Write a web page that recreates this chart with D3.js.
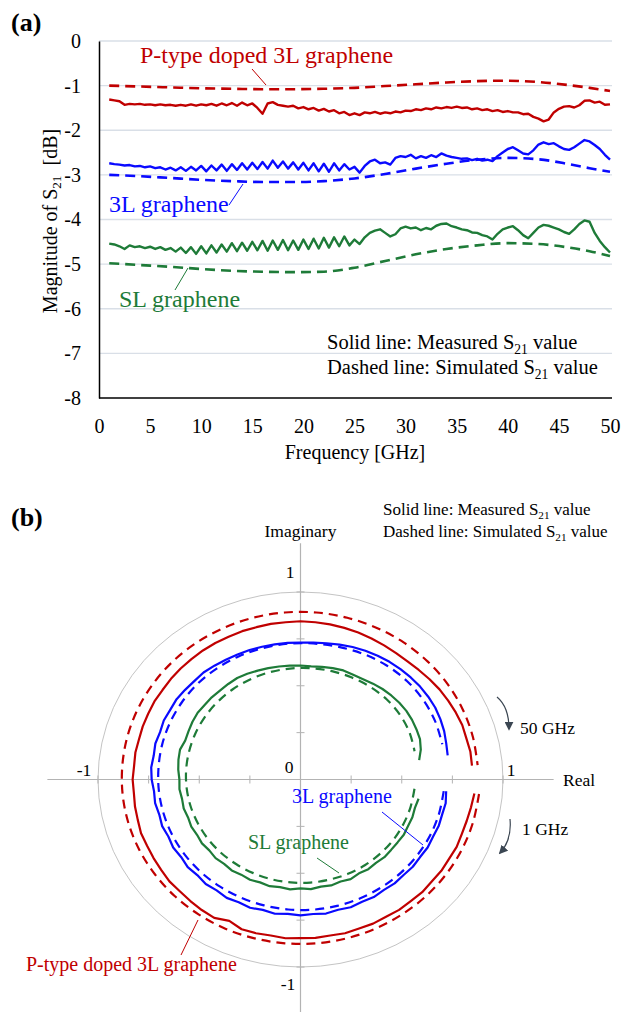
<!DOCTYPE html>
<html>
<head>
<meta charset="utf-8">
<script src="https://cdn.jsdelivr.net/npm/d3@7"></script>
<style>
  body { margin: 0; background: #fff; }
  svg text { font-family: "Liberation Serif", "Times New Roman", serif; white-space: pre; }
</style>
</head>
<body>
<div id="chart"></div>
<script>
// ---------- panel (a): |S21| in dB vs frequency ----------
var freqMeas = [1,1.5,2,2.5,3,3.5,4,4.5,5,5.5,6,6.5,7,7.5,8,8.5,9,9.5,10,10.5,
  11,11.5,12,12.5,13,13.5,14,14.5,15,15.5,16,16.5,17,17.5,18,18.5,19,19.5,20,20.5,
  21,21.5,22,22.5,23,23.5,24,24.5,25,25.5,26,26.5,27,27.5,28,28.5,29,29.5,30,30.5,
  31,31.5,32,32.5,33,33.5,34,34.5,35,35.5,36,36.5,37,37.5,38,38.5,39,39.5,40,40.5,
  41,41.5,42,42.5,43,43.5,44,44.5,45,45.5,46,46.5,47,47.5,48,48.5,49,49.5,50];

var pdopedMeas = [-1.31,-1.33,-1.35,-1.43,-1.41,-1.42,-1.41,-1.43,-1.42,-1.44,
  -1.42,-1.44,-1.43,-1.45,-1.43,-1.45,-1.42,-1.45,-1.42,-1.44,
  -1.41,-1.45,-1.40,-1.44,-1.39,-1.45,-1.38,-1.44,-1.40,-1.50,
  -1.63,-1.40,-1.37,-1.43,-1.45,-1.47,-1.45,-1.51,-1.48,-1.53,
  -1.50,-1.56,-1.52,-1.58,-1.55,-1.62,-1.59,-1.66,-1.62,-1.66,
  -1.60,-1.62,-1.59,-1.63,-1.60,-1.62,-1.58,-1.60,-1.56,-1.57,
  -1.53,-1.55,-1.51,-1.53,-1.49,-1.51,-1.48,-1.50,-1.47,-1.50,
  -1.49,-1.53,-1.51,-1.55,-1.53,-1.57,-1.55,-1.59,-1.57,-1.60,
  -1.60,-1.64,-1.63,-1.70,-1.74,-1.80,-1.76,-1.60,-1.52,-1.47,
  -1.46,-1.49,-1.44,-1.34,-1.33,-1.38,-1.36,-1.43,-1.42];

var g3lMeas = [-2.74,-2.76,-2.77,-2.79,-2.78,-2.81,-2.80,-2.83,-2.81,-2.85,
  -2.83,-2.88,-2.84,-2.90,-2.83,-2.91,-2.82,-2.90,-2.80,-2.92,
  -2.79,-2.90,-2.77,-2.91,-2.76,-2.89,-2.74,-2.88,-2.73,-2.87,
  -2.71,-2.86,-2.68,-2.84,-2.70,-2.86,-2.72,-2.88,-2.73,-2.90,
  -2.74,-2.92,-2.75,-2.93,-2.74,-2.90,-2.76,-2.88,-2.82,-2.95,
  -2.80,-2.70,-2.66,-2.74,-2.72,-2.77,-2.62,-2.58,-2.60,-2.55,
  -2.63,-2.58,-2.62,-2.56,-2.60,-2.52,-2.57,-2.60,-2.62,-2.64,
  -2.63,-2.67,-2.64,-2.68,-2.66,-2.69,-2.58,-2.50,-2.42,-2.38,
  -2.45,-2.52,-2.54,-2.45,-2.32,-2.27,-2.31,-2.29,-2.36,-2.42,
  -2.44,-2.38,-2.30,-2.22,-2.25,-2.33,-2.42,-2.55,-2.66];

var slMeas = [-4.54,-4.56,-4.60,-4.66,-4.58,-4.62,-4.60,-4.64,-4.61,-4.66,
  -4.62,-4.68,-4.64,-4.72,-4.63,-4.75,-4.62,-4.77,-4.60,-4.76,
  -4.58,-4.74,-4.56,-4.72,-4.53,-4.71,-4.52,-4.70,-4.50,-4.69,
  -4.48,-4.70,-4.47,-4.68,-4.46,-4.69,-4.47,-4.68,-4.45,-4.66,
  -4.43,-4.65,-4.41,-4.63,-4.40,-4.60,-4.38,-4.58,-4.45,-4.55,
  -4.40,-4.30,-4.25,-4.22,-4.30,-4.38,-4.33,-4.20,-4.16,-4.20,
  -4.18,-4.24,-4.19,-4.22,-4.14,-4.10,-4.09,-4.15,-4.18,-4.22,
  -4.24,-4.29,-4.30,-4.35,-4.38,-4.45,-4.32,-4.22,-4.18,-4.15,
  -4.24,-4.35,-4.42,-4.30,-4.18,-4.12,-4.14,-4.18,-4.22,-4.28,
  -4.32,-4.22,-4.10,-4.02,-4.05,-4.30,-4.48,-4.62,-4.74];

var freqSim = [1,4,7,10,13,16,19,22,25,28,31,34,37,40,43,46,48,50];
var pdopedSim = [-1.00,-1.02,-1.04,-1.06,-1.07,-1.08,-1.08,-1.07,-1.05,-1.01,-0.97,-0.93,-0.90,-0.89,-0.92,-0.99,-1.05,-1.12];
var g3lSim    = [-3.00,-3.03,-3.07,-3.11,-3.14,-3.16,-3.16,-3.14,-3.08,-2.98,-2.86,-2.75,-2.66,-2.62,-2.65,-2.76,-2.85,-2.93];
var slSim     = [-4.98,-5.02,-5.06,-5.11,-5.15,-5.17,-5.18,-5.17,-5.08,-4.93,-4.78,-4.66,-4.58,-4.53,-4.55,-4.63,-4.71,-4.82];

var magTicks = [0,-1,-2,-3,-4,-5,-6,-7,-8];
var freqTicks = [0,5,10,15,20,25,30,35,40,45,50];

// ---------- panel (b): S21 on the complex plane (phase in degrees, linear magnitude) ----------
var phaseMeas = [-5,-10,-15,-20,-25,-30,-35,-40,-45,-50,-55,-60,-65,-70,-75,-80,-85,-90,
  -95,-100,-105,-110,-115,-120,-125,-130,-135,-140,-145,-150,-155,-160,-165,-170,-175,-180,
  -185,-190,-195,-200,-205,-210,-215,-220,-225,-230,-235,-240,-245,-250,-255,-260,-265,-270,
  -275,-280,-285,-290,-295,-300,-305,-310,-315,-320,-325,-330,-335,-340,-345,-350,-355];

var pdopedPolMeas = [.862,.855,.850,.848,.851,.847,.849,.846,.850,.847,.849,.845,.848,.846,.849,.845,.848,.846,
  .850,.845,.849,.850,.832,.852,.850,.846,.843,.845,.840,.838,.836,.838,.832,.830,.826,.829,
  .825,.828,.826,.829,.830,.833,.832,.835,.837,.838,.840,.841,.840,.842,.841,.843,.842,.844,
  .842,.840,.837,.834,.830,.826,.823,.822,.826,.832,.838,.842,.846,.850,.848,.852,.850];

var g3lPolMeas = [.722,.728,.724,.726,.722,.725,.721,.724,.720,.723,.719,.724,.720,.725,.719,.726,.720,.725,
  .719,.727,.720,.728,.722,.729,.722,.728,.721,.727,.720,.726,.720,.727,.722,.729,.726,.735,
  .740,.736,.742,.738,.745,.743,.747,.744,.742,.745,.741,.738,.736,.735,.733,.732,.731,.730,
  .733,.738,.745,.752,.758,.762,.766,.768,.770,.771,.770,.768,.762,.755,.745,.738,null];

var slPolMeas = [null,.592,.585,.588,.586,.589,.585,.584,.586,.580,.584,.578,.586,.579,.585,.580,.587,.581,
  .588,.583,.589,.584,.590,.586,.592,.587,.593,.588,.594,.590,.595,.591,.597,.594,.600,.598,
  .606,.612,.616,.606,.610,.616,.620,.618,.620,.619,.622,.625,.622,.618,.615,.612,.610,.608,
  .606,.610,.615,.619,.616,.618,.624,.630,.634,.637,.638,.636,.632,.628,.615,.595,null];

var phaseSim = [-5,-15,-25,-35,-45,-55,-65,-75,-85,-95,-105,-115,-125,-135,-145,-155,-165,-175,
  -185,-195,-205,-215,-225,-235,-245,-255,-265,-275,-285,-295,-305,-315,-325,-335,-345,-355];

var pdopedPolSim = [.885,.882,.880,.879,.878,.877,.877,.877,.877,.877,.877,.878,.878,.879,.879,.880,.881,.882,
  .883,.885,.887,.889,.891,.892,.893,.894,.894,.894,.893,.892,.891,.889,.887,.884,.881,.878];
var g3lPolSim = [.710,.708,.706,.704,.702,.700,.699,.698,.697,.696,.695,.695,.696,.697,.698,.699,.700,.702,
  .704,.708,.712,.716,.720,.722,.724,.725,.727,.728,.732,.738,.742,.743,.740,.734,.725,null];
var slPolSim = [.565,.563,.561,.560,.558,.557,.555,.553,.552,.551,.551,.551,.552,.554,.556,.558,.561,.564,
  .567,.570,.574,.578,.582,.586,.589,.592,.594,.596,.598,.600,.602,.603,.600,.594,.583,null];

var axisTicks = [-1,-0.75,-0.5,-0.25,0.25,0.5,0.75,1];

var RED = "#c00000", BLUE = "#0a0aff", GREEN = "#1e7b38", ARROW = "#3b4652";

var W = 621, H = 1012;
var svg = d3.select("#chart").append("svg")
  .attr("width", W).attr("height", H)
  .style("background", "#fff");

var defs = svg.append("defs");
defs.append("marker")
  .attr("id", "arrow")
  .attr("viewBox", "0 0 10 10")
  .attr("refX", 8).attr("refY", 5)
  .attr("markerWidth", 9).attr("markerHeight", 9)
  .attr("markerUnits", "userSpaceOnUse")
  .attr("orient", "auto")
  .append("path").attr("d", "M0,0 L10,5 L0,10 z").attr("fill", ARROW);

// text with a subscript piece
function subText(g, x, y, before, sub, after, size, color) {
  var t = g.append("text").attr("x", x).attr("y", y)
    .style("font-size", size + "px").attr("fill", color || "#000");
  t.append("tspan").text(before);
  t.append("tspan").attr("dy", size * 0.22).style("font-size", (size * 0.66) + "px").text(sub);
  t.append("tspan").attr("dy", -size * 0.22).text(after);
  return t;
}

function label(g, x, y, txt, size, color, anchor) {
  return g.append("text").attr("x", x).attr("y", y)
    .attr("text-anchor", anchor || "start")
    .style("font-size", size + "px").attr("fill", color || "#000").text(txt);
}

function leader(g, x1, y1, x2, y2, color) {
  g.append("line").attr("x1", x1).attr("y1", y1).attr("x2", x2).attr("y2", y2)
    .attr("stroke", color).attr("stroke-width", 1);
}

// ================= panel (a) =================
var pa = svg.append("g");
var x = d3.scaleLinear().domain([0, 50]).range([99, 610]);
var y = d3.scaleLinear().domain([0, -8]).range([41, 398]);

pa.append("text").attr("x", 11).attr("y", 31)
  .style("font-size", "26px").style("font-weight", "bold").text("(a)");

// grid
pa.selectAll("line.grid").data(magTicks.slice(0, 8)).enter()
  .append("line").attr("class", "grid")
  .attr("x1", x(0)).attr("x2", 612)
  .attr("y1", function(d) { return y(d); }).attr("y2", function(d) { return y(d); })
  .attr("stroke", "#d9dfe7").attr("stroke-width", 1.3);

var yAxis = pa.append("g").attr("transform", "translate(" + x(0) + ",0)")
  .call(d3.axisLeft(y).tickValues(magTicks).tickSize(0).tickPadding(18).tickFormat(function(d) { return String(d); }));
var xAxis = pa.append("g").attr("transform", "translate(0," + y(-8) + ")")
  .call(d3.axisBottom(x).tickValues(freqTicks).tickSize(0).tickPadding(21).tickFormat(function(d) { return String(d); }));
xAxis.select(".domain").attr("d", "M" + x(0) + ",0H612");
[yAxis, xAxis].forEach(function(a) {
  a.select(".domain").attr("stroke", "#000").attr("stroke-width", 1.5);
  a.selectAll("text").style("font-size", "20px")
    .style("font-family", "'Liberation Serif','Times New Roman',serif").attr("fill", "#000");
});

// y title
var yt = pa.append("g").attr("transform", "translate(57,221) rotate(-90)");
subText(yt, 0, 0, "Magnitude of S", "21", "  [dB]", 20).attr("text-anchor", "middle");
label(pa, 355, 459, "Frequency [GHz]", 20, "#000", "middle");

var lineA = d3.line().x(function(d) { return x(d[0]); }).y(function(d) { return y(d[1]); });
var lineSim = d3.line().x(function(d) { return x(d[0]); }).y(function(d) { return y(d[1]); })
  .curve(d3.curveMonotoneX);

[[slSim, GREEN], [g3lSim, BLUE], [pdopedSim, RED]].forEach(function(s) {
  pa.append("path").datum(d3.zip(freqSim, s[0])).attr("d", lineSim)
    .attr("fill", "none").attr("stroke", s[1]).attr("stroke-width", 2.6)
    .attr("stroke-dasharray", "10,6");
});
[[slMeas, GREEN], [g3lMeas, BLUE], [pdopedMeas, RED]].forEach(function(s) {
  pa.append("path").datum(d3.zip(freqMeas, s[0])).attr("d", lineA)
    .attr("fill", "none").attr("stroke", s[1]).attr("stroke-width", 2.4)
    .attr("stroke-linejoin", "round");
});

label(pa, 140, 63, "P-type doped 3L graphene", 24, RED);
leader(pa, 252, 69, 266, 85, RED);
label(pa, 109, 212, "3L graphene", 24, BLUE);
leader(pa, 229, 205, 243, 184, BLUE);
label(pa, 119, 307, "SL graphene", 24, GREEN);
leader(pa, 175, 290, 188, 268, GREEN);

subText(pa, 327, 349, "Solid line: Measured S", "21", " value", 20.5);
subText(pa, 327, 374, "Dashed line: Simulated S", "21", " value", 20.5);

// ================= panel (b) =================
var pb = svg.append("g");
var px = d3.scaleLinear().domain([-1, 1]).range([98, 503]);
var py = d3.scaleLinear().domain([1, -1]).range([592, 967]);

pb.append("text").attr("x", 11).attr("y", 526)
  .style("font-size", "26px").style("font-weight", "bold").text("(b)");

var AX = "#b3b3b3";
pb.append("ellipse").attr("cx", px(0)).attr("cy", py(0))
  .attr("rx", px(1) - px(0)).attr("ry", py(-1) - py(0))
  .attr("fill", "none").attr("stroke", "#c4c4c4").attr("stroke-width", 1);
pb.append("line").attr("x1", px(-1.25)).attr("x2", px(1.25)).attr("y1", py(0)).attr("y2", py(0))
  .attr("stroke", AX).attr("stroke-width", 1.2);
pb.append("line").attr("x1", px(0)).attr("x2", px(0)).attr("y1", py(1.26)).attr("y2", H)
  .attr("stroke", AX).attr("stroke-width", 1.2);
pb.selectAll("line.tx").data(axisTicks).enter().append("line").attr("class", "tx")
  .attr("x1", function(d) { return px(d); }).attr("x2", function(d) { return px(d); })
  .attr("y1", py(0) - 4).attr("y2", py(0) + 4).attr("stroke", AX);
pb.selectAll("line.ty").data(axisTicks).enter().append("line").attr("class", "ty")
  .attr("y1", function(d) { return py(d); }).attr("y2", function(d) { return py(d); })
  .attr("x1", px(0) - 4).attr("x2", px(0) + 4).attr("stroke", AX);

label(pb, px(0), 537, "Imaginary", 17.5, "#000", "middle");
label(pb, 563, 786, "Real", 17.5);
label(pb, 290, 578, "1", 17.5, "#000", "middle");
label(pb, 288, 990, "-1", 17.5, "#000", "middle");
label(pb, 289, 773, "0", 17.5, "#000", "middle");
label(pb, 84, 776, "-1", 17.5, "#000", "middle");
label(pb, 511, 776, "1", 17.5, "#000", "middle");

subText(pb, 383, 515, "Solid line: Measured S", "21", " value", 17);
subText(pb, 383, 537, "Dashed line: Simulated S", "21", " value", 17);

function toXY(phase, mag) {
  return phase.map(function(p, i) {
    if (mag[i] == null) return null;
    var a = p * Math.PI / 180;
    return [mag[i] * Math.cos(a), mag[i] * Math.sin(a)];
  });
}
var linePolar = d3.line().defined(function(d) { return d != null; })
  .x(function(d) { return px(d[0]); }).y(function(d) { return py(d[1]); });
var linePolarSim = d3.line().defined(function(d) { return d != null; })
  .x(function(d) { return px(d[0]); }).y(function(d) { return py(d[1]); })
  .curve(d3.curveCatmullRom);

[[pdopedPolSim, RED], [g3lPolSim, BLUE], [slPolSim, GREEN]].forEach(function(s) {
  pb.append("path").datum(toXY(phaseSim, s[0])).attr("d", linePolarSim)
    .attr("fill", "none").attr("stroke", s[1]).attr("stroke-width", 2.2)
    .attr("stroke-dasharray", "9,6");
});
[[pdopedPolMeas, RED], [g3lPolMeas, BLUE], [slPolMeas, GREEN]].forEach(function(s) {
  pb.append("path").datum(toXY(phaseMeas, s[0])).attr("d", linePolar)
    .attr("fill", "none").attr("stroke", s[1]).attr("stroke-width", 2.2)
    .attr("stroke-linejoin", "round");
});

label(pb, 292, 803, "3L graphene", 20, BLUE);
leader(pb, 382, 812, 423, 845, BLUE);
label(pb, 248, 849, "SL graphene", 20, GREEN);
leader(pb, 317, 858, 339, 873, GREEN);
label(pb, 26, 971, "P-type doped 3L graphene", 20, RED);
leader(pb, 181, 955, 198, 920, RED);

// frequency direction arrows
pb.append("path").attr("d", "M497,697 Q509,707 509,729")
  .attr("fill", "none").attr("stroke", ARROW).attr("stroke-width", 1.2).attr("marker-end", "url(#arrow)");
label(pb, 520, 734, "50 GHz", 17.5);
pb.append("path").attr("d", "M510,819 Q512,840 500,853")
  .attr("fill", "none").attr("stroke", ARROW).attr("stroke-width", 1.2).attr("marker-end", "url(#arrow)");
label(pb, 522, 835, "1 GHz", 17.5);
</script>
</body>
</html>
